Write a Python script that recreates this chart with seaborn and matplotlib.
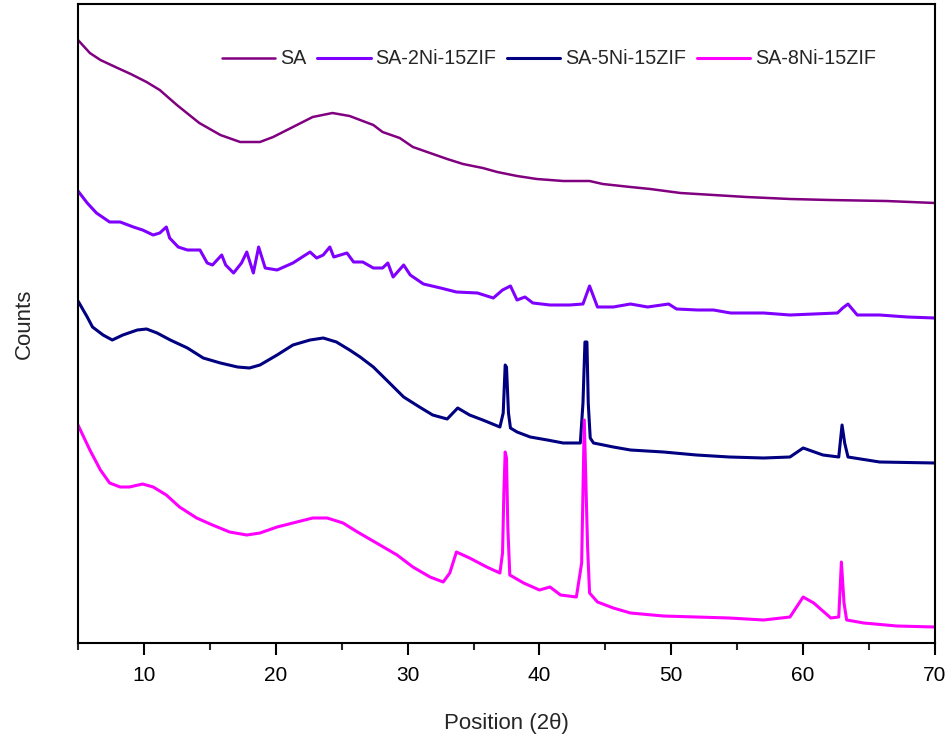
import matplotlib
matplotlib.use("Agg")
import matplotlib.pyplot as plt
from matplotlib.ticker import MultipleLocator, NullLocator
import seaborn as sns
import pandas as pd

# ---- data (2theta, counts in arbitrary units) ----
sa_x = [5.0, 5.9, 6.7, 8.0, 9.0, 10.2, 11.2, 12.5, 14.2, 15.8, 17.3, 18.8, 19.8, 21.3,
        22.8, 24.3, 25.6, 27.4, 28.1, 29.4, 30.4, 31.7, 33.0, 34.2, 35.7, 36.8, 38.3,
        39.8, 41.8, 43.8, 44.8, 46.9, 48.4, 50.7, 53.2, 55.7, 59.0, 62.0, 66.3, 70.0]
sa_y = [603, 590, 583, 575, 569, 561, 553, 538, 520, 508, 501, 501, 506, 516,
        526, 530, 527, 518, 511, 505, 496, 490, 484, 479, 475, 471, 467,
        464, 462, 462, 459, 456, 454, 450, 448, 446, 444, 443, 442, 440]

ni2_x = [5.0, 5.7, 6.4, 7.4, 8.2, 9.2, 9.9, 10.7, 11.2, 11.7, 11.95, 12.6, 13.3, 14.25,
         14.8, 15.2, 15.9, 16.2, 16.8, 17.4, 17.8, 18.3, 18.7, 19.2, 20.1, 21.3, 22.6,
         23.1, 23.6, 24.1, 24.4, 25.4, 25.9, 26.6, 27.4, 28.1, 28.5, 28.9, 29.7, 30.2,
         31.2, 32.5, 33.7, 35.3, 36.5, 37.2, 37.8, 38.3, 38.9, 39.5, 40.8, 42.3, 43.3,
         43.8, 44.4, 45.6, 46.9, 48.2, 49.8, 50.4, 52.0, 53.2, 54.5, 57.0, 59.0, 62.6,
         63.0, 63.4, 64.1, 65.8, 67.9, 70.0]
ni2_y = [452, 440, 430, 421, 421, 416, 413, 408, 410, 416, 405, 396, 393, 393,
         380, 378, 388, 378, 370, 380, 391, 370, 396, 375, 373, 380, 391,
         385, 388, 396, 386, 390, 381, 381, 375, 375, 380, 366, 378, 368,
         359, 355, 351, 350, 345, 353, 357, 343, 346, 340, 338, 338, 339,
         357, 336, 336, 339, 336, 339, 334, 333, 333, 330, 330, 328, 330,
         335, 339, 328, 328, 326, 325]

ni5_x = [5.0, 5.7, 6.1, 6.9, 7.6, 8.4, 9.5, 10.2, 11.0, 12.0, 13.3, 14.5, 15.8, 17.1,
         18.0, 18.8, 20.1, 21.3, 22.6, 23.6, 24.6, 25.6, 26.4, 27.4, 28.4, 29.7, 30.9,
         31.9, 33.0, 33.8, 34.7, 35.7, 37.0, 37.25, 37.4, 37.5, 37.65, 37.8, 38.3, 39.3,
         40.6, 41.8, 43.1, 43.3, 43.45, 43.6, 43.7, 43.85, 44.1, 45.6, 46.9, 49.4, 51.9,
         54.4, 57.0, 59.0, 60.0, 61.5, 62.7, 62.95, 63.15, 63.4, 65.8, 70.0]
ni5_y = [342, 326, 316, 308, 303, 308, 313, 314, 310, 303, 295, 285, 280, 276,
         275, 278, 288, 298, 303, 305, 301, 293, 286, 276, 263, 246, 236,
         228, 224, 235, 228, 223, 216, 230, 278, 276, 230, 215, 211, 206,
         203, 200, 200, 240, 301, 301, 240, 205, 200, 196, 193, 191, 188,
         186, 185, 186, 195, 188, 186, 218, 200, 186, 181, 180]

ni8_x = [5.0, 5.9, 6.7, 7.4, 8.2, 8.9, 9.9, 10.7, 11.7, 12.7, 14.0, 15.2, 16.5, 17.8,
         18.8, 20.1, 21.3, 22.8, 23.9, 25.1, 26.2, 27.9, 29.2, 30.4, 31.7, 32.7, 33.2,
         33.7, 34.7, 36.0, 37.0, 37.2, 37.3, 37.4, 37.5, 37.6, 37.75, 38.8, 40.0, 40.8,
         41.6, 42.8, 43.2, 43.4, 43.55, 43.65, 43.8, 44.4, 45.6, 46.9, 49.4, 51.9, 54.4,
         57.0, 59.0, 60.0, 60.8, 62.1, 62.7, 62.9, 63.1, 63.3, 64.6, 67.1, 70.0]
ni8_y = [218, 193, 173, 160, 156, 156, 159, 156, 148, 136, 125, 118, 111, 108,
         110, 116, 120, 125, 125, 120, 111, 98, 88, 76, 66, 61, 70,
         91, 85, 76, 70, 90, 150, 191, 185, 116, 68, 60, 53, 56,
         48, 46, 80, 223, 146, 96, 50, 41, 35, 30, 27, 26, 25,
         23, 26, 46, 40, 25, 26, 81, 40, 23, 20, 17, 16]

labels = ["SA", "SA-2Ni-15ZIF", "SA-5Ni-15ZIF", "SA-8Ni-15ZIF"]
colors = ["#800080", "#8000FF", "#000080", "#FF00FF"]
xticks = [10, 20, 30, 40, 50, 60, 70]

frames = []
for lab, xs, ys in zip(labels, [sa_x, ni2_x, ni5_x, ni8_x], [sa_y, ni2_y, ni5_y, ni8_y]):
    frames.append(pd.DataFrame({"theta": xs, "counts": ys, "sample": lab}))
df = pd.concat(frames, ignore_index=True)

sns.set_style("ticks")
plt.rcParams["font.family"] = ["Liberation Sans", "DejaVu Sans"]

fig = plt.figure(figsize=(9.53, 7.44), dpi=100)
ax = fig.add_axes([78 / 953, 1 - 643 / 744, (935 - 78) / 953, (643 - 4) / 744])

for lab, col in zip(labels, colors):
    sub = df[df["sample"] == lab]
    sns.lineplot(data=sub, x="theta", y="counts", ax=ax, color=col, label=lab,
                 linewidth=1.8 if lab == "SA" else 2.2, estimator=None, sort=False)

ax.set_xlim(5, 70)
ax.set_ylim(0, 639)
ax.set_xticks(xticks)
ax.xaxis.set_minor_locator(MultipleLocator(5))
ax.yaxis.set_major_locator(NullLocator())
ax.tick_params(axis="x", which="major", direction="out", length=8.5, width=1.5,
               labelsize=15, pad=8, colors="black")
ax.tick_params(axis="x", which="minor", direction="out", length=5, width=1.5)
ax.tick_params(axis="y", left=False, labelleft=False)
for sp in ax.spines.values():
    sp.set_linewidth(1.5)
    sp.set_color("black")
    sp.set_visible(True)

ax.set_xlabel("Position (2\u03b8)", fontsize=16, labelpad=20)
ax.set_ylabel("Counts", fontsize=16, labelpad=31)

ax.legend(loc="center left", bbox_to_anchor=(222 / 953, 1 - 59 / 744),
          bbox_transform=fig.transFigure, ncol=4, frameon=False, fontsize=14.2,
          handlelength=2.7, handletextpad=0.25, columnspacing=0.55,
          borderpad=0, borderaxespad=0)

fig.savefig("out.png", dpi=100)
